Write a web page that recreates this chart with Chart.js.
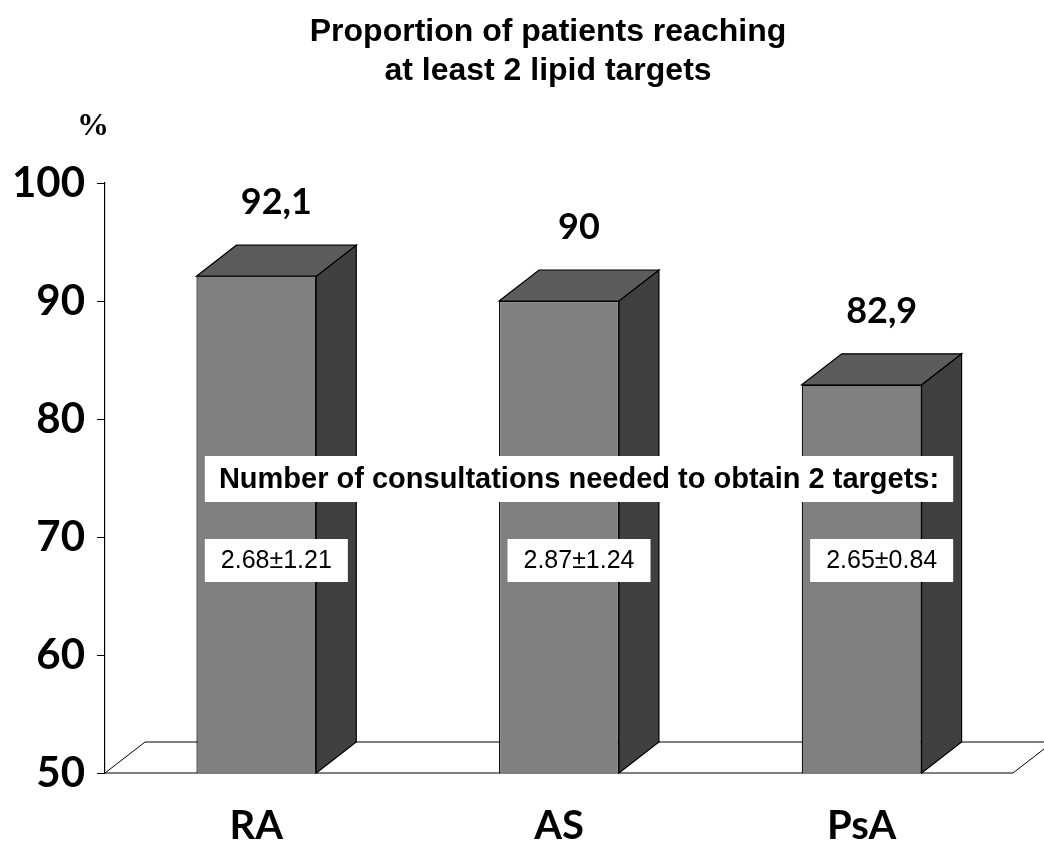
<!DOCTYPE html>
<html>
<head>
<meta charset="utf-8">
<script src="https://cdn.jsdelivr.net/npm/chart.js@4"></script>
<style>
  html, body { margin: 0; padding: 0; background: #fff; }
  #wrap { width: 1044px; height: 852px; }
</style>
</head>
<body>
<div id="wrap"><canvas id="lipidChart" width="1044" height="852"></canvas></div>
<script>
const categories = ["RA", "AS", "PsA"];
const proportions = [92.1, 90, 82.9];
const consultMeans = [2.68, 2.87, 2.65];
const consultSds = [1.21, 1.24, 0.84];
const yTicks = [50, 60, 70, 80, 90, 100];

const titleLines = ["Proportion of patients reaching", "at least 2 lipid targets"];
const unitLabel = "%";
const noteText = "Number of consultations needed to obtain 2 targets:";

// 3D depth offset of the boxes and the floor
const DEPTH_X = 40;
const DEPTH_Y = -31;

const FRONT = "#808080";
const SIDE = "#404040";
const TOP = "#5c5c5c";

const fmtComma = v => String(v).replace(".", ",");

const boxes3d = {
  id: "boxes3d",
  beforeDatasetsDraw(chart) {
    // floor plane
    const { ctx, chartArea } = chart;
    const y0 = chart.scales.y.getPixelForValue(50);
    ctx.save();
    ctx.beginPath();
    ctx.moveTo(chartArea.left, y0);
    ctx.lineTo(chartArea.right, y0);
    ctx.lineTo(chartArea.right + DEPTH_X, y0 + DEPTH_Y);
    ctx.lineTo(chartArea.left + DEPTH_X, y0 + DEPTH_Y);
    ctx.closePath();
    ctx.fillStyle = "#fff";
    ctx.fill();
    ctx.strokeStyle = "#000";
    ctx.lineWidth = 1;
    ctx.stroke();
    ctx.restore();
  },
  afterDatasetsDraw(chart) {
    const { ctx } = chart;
    const meta = chart.getDatasetMeta(0);
    const yb = chart.scales.y.getPixelForValue(50);
    ctx.save();
    ctx.strokeStyle = "#000";
    ctx.lineWidth = 1.2;
    meta.data.forEach(bar => {
      const x0 = bar.x - bar.width / 2;
      const x1 = bar.x + bar.width / 2;
      const yt = bar.y;

      // side face
      ctx.beginPath();
      ctx.moveTo(x1, yt);
      ctx.lineTo(x1 + DEPTH_X, yt + DEPTH_Y);
      ctx.lineTo(x1 + DEPTH_X, yb + DEPTH_Y);
      ctx.lineTo(x1, yb);
      ctx.closePath();
      ctx.fillStyle = SIDE;
      ctx.fill();
      ctx.stroke();

      // top face
      ctx.beginPath();
      ctx.moveTo(x0, yt);
      ctx.lineTo(x0 + DEPTH_X, yt + DEPTH_Y);
      ctx.lineTo(x1 + DEPTH_X, yt + DEPTH_Y);
      ctx.lineTo(x1, yt);
      ctx.closePath();
      ctx.fillStyle = TOP;
      ctx.fill();
      ctx.stroke();
    });
    ctx.restore();
  },
  afterDraw(chart) {
    const { ctx } = chart;
    const meta = chart.getDatasetMeta(0);
    ctx.save();

    // title
    ctx.fillStyle = "#000";
    ctx.textAlign = "center";
    ctx.textBaseline = "alphabetic";
    ctx.font = "bold 32px 'Liberation Sans', Arial, sans-serif";
    ctx.fillText(titleLines[0], 548, 41);
    ctx.fillText(titleLines[1], 548, 80);

    // unit
    ctx.font = "bold 32px 'Liberation Serif', 'Times New Roman', serif";
    ctx.fillText(unitLabel, 93, 135);

    // value labels over the boxes
    ctx.font = "bold 36px Lato, sans-serif";
    meta.data.forEach((bar, i) => {
      ctx.fillText(fmtComma(proportions[i]), bar.x + DEPTH_X / 2, bar.y + DEPTH_Y - 31);
    });

    // note box spanning the three bars
    const first = meta.data[0], last = meta.data[meta.data.length - 1];
    const bx0 = first.x + DEPTH_X / 2 - 71.5;
    const bx1 = last.x + DEPTH_X / 2 + 71.5;
    ctx.fillStyle = "#fff";
    ctx.fillRect(bx0, 456, bx1 - bx0, 46);
    ctx.fillStyle = "#000";
    ctx.font = "bold 29px 'Liberation Sans', Arial, sans-serif";
    ctx.textBaseline = "middle";
    ctx.fillText(noteText, (bx0 + bx1) / 2, 480);

    // consultation counts
    ctx.font = "25px 'Liberation Sans', Arial, sans-serif";
    meta.data.forEach((bar, i) => {
      const cx = bar.x + DEPTH_X / 2;
      ctx.fillStyle = "#fff";
      ctx.fillRect(cx - 71.5, 539, 143, 43);
      ctx.fillStyle = "#000";
      ctx.fillText(consultMeans[i].toFixed(2) + "\u00B1" + consultSds[i].toFixed(2), cx, 561);
    });

    ctx.restore();
  }
};

new Chart(document.getElementById("lipidChart"), {
  type: "bar",
  data: {
    labels: categories,
    datasets: [{
      data: proportions,
      backgroundColor: FRONT,
      borderColor: "#000",
      borderWidth: 1.2,
      barPercentage: 0.396,
      categoryPercentage: 1
    }]
  },
  options: {
    responsive: false,
    animation: false,
    layout: { padding: { top: 183, right: 31, bottom: 0, left: 0 } },
    plugins: {
      legend: { display: false },
      title: { display: false },
      tooltip: { enabled: false }
    },
    scales: {
      x: {
        grid: { display: false },
        border: { display: false },
        ticks: {
          color: "#000",
          font: { family: "Lato", size: 40, weight: "bold" },
          padding: 21
        },
        afterFit: s => { s.height = 79; }
      },
      y: {
        min: 50,
        max: 100,
        afterBuildTicks: s => { s.ticks = yTicks.map(v => ({ value: v })); },
        grid: { drawOnChartArea: false, drawTicks: true, tickLength: 8, color: "#000" },
        border: { display: true, color: "#000", width: 1.2 },
        ticks: {
          color: "#000",
          font: { family: "Lato", size: 42, weight: "bold" },
          padding: 12
        },
        afterFit: s => { s.width = 105; }
      }
    }
  },
  plugins: [boxes3d]
});
</script>
</body>
</html>
